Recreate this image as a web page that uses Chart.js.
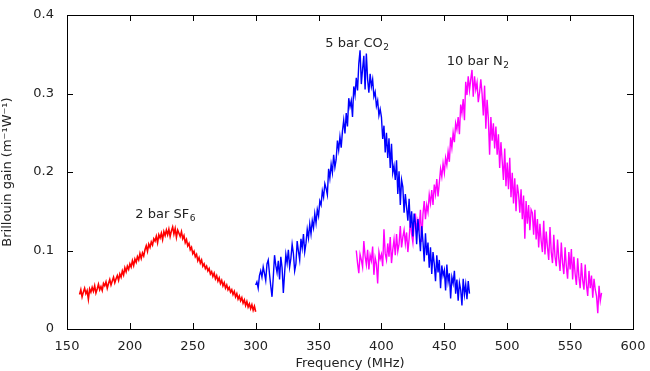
<!DOCTYPE html>
<html>
<head>
<meta charset="utf-8">
<script src="https://cdn.jsdelivr.net/npm/chart.js@4.4.0/dist/chart.umd.min.js"></script>
<style>
  html, body { margin: 0; padding: 0; background: #fff; }
  #wrap { width: 650px; height: 371px; }
</style>
</head>
<body>
<div id="wrap"><canvas id="grafica" width="650" height="371"></canvas></div>
<script>
// frequency grid of each trace (MHz): first sample and spacing
const inicioSF6 = 160, inicioCO2 = 300, inicioN2 = 380, paso = 1;

const gananciaSF6 = [
  .044, .050, .041, .047, .052, .045, .049, .038, .051, .047,
  .053, .048, .055, .046, .051, .057, .050, .054, .049, .058,
  .055, .060, .052, .058, .063, .056, .061, .066, .059, .064,
  .068, .062, .070, .066, .074, .069, .078, .073, .080, .076,
  .083, .079, .087, .081, .089, .085, .092, .088, .096, .090,
  .097, .093, .101, .106, .099, .108, .104, .111, .107, .115,
  .112, .118, .110, .120, .116, .122, .114, .124, .119, .126,
  .120, .127, .118, .125, .130, .121, .128, .117, .126, .122,
  .118, .124, .115, .119, .110, .114, .106, .109, .101, .104,
  .096, .099, .092, .095, .087, .091, .084, .088, .080, .083,
  .077, .080, .074, .077, .070, .073, .067, .071, .064, .068,
  .061, .065, .058, .062, .055, .059, .052, .056, .050, .053,
  .047, .050, .044, .048, .041, .045, .038, .042, .036, .040,
  .033, .037, .030, .035, .028, .032, .026, .031, .024, .029,
  .022
];

const gananciaCO2 = [
  .056, .060, .052, .068, .074, .066, .079, .071, .062, .083,
  .088, .070, .055, .041, .066, .094, .081, .072, .087, .063,
  .092, .078, .046, .071, .095, .084, .101, .079, .090, .108,
  .096, .074, .083, .112, .099, .088, .115, .103, .121, .098,
  .109, .127, .116, .134, .121, .138, .129, .147, .135, .152,
  .144, .163, .158, .176, .168, .185, .179, .171, .204, .192,
  .210, .199, .222, .206, .216, .240, .228, .245, .231, .252,
  .266, .249, .275, .258, .294, .283, .291, .270, .309, .298,
  .320, .304, .338, .355, .312, .331, .348, .305, .351, .318,
  .301, .325, .309, .318, .296, .302, .284, .291, .272, .280,
  .270, .242, .259, .225, .250, .218, .243, .205, .236, .199,
  .208, .190, .215, .172, .201, .158, .190, .181, .148, .172,
  .155, .138, .166, .129, .150, .118, .147, .135, .108, .140,
  .121, .099, .131, .112, .086, .122, .094, .110, .078, .104,
  .070, .098, .083, .061, .094, .072, .088, .052, .081, .068,
  .075, .049, .082, .060, .071, .039, .066, .058, .074, .045,
  .063, .036, .059, .050, .030, .064, .044, .057, .038, .061,
  .045
];

const gananciaN2 = [
  .100, .084, .071, .095, .088, .079, .112, .093, .082, .101,
  .076, .094, .087, .105, .069, .091, .083, .058, .098, .089,
  .095, .080, .127, .096, .088, .109, .092, .117, .084, .101,
  .114, .094, .121, .099, .108, .131, .104, .117, .126, .109,
  .123, .098, .115, .139, .121, .110, .133, .147, .125, .138,
  .129, .152, .111, .146, .163, .140, .158, .149, .171, .160,
  .177, .158, .184, .172, .191, .169, .186, .204, .194, .211,
  .199, .218, .209, .226, .213, .244, .231, .250, .238, .262,
  .254, .270, .248, .286, .275, .293, .266, .315, .298, .322,
  .304, .318, .330, .296, .322, .305, .314, .289, .301, .318,
  .300, .272, .310, .255, .292, .268, .222, .270, .240, .262,
  .230, .258, .222, .248, .205, .238, .214, .190, .230, .182,
  .212, .178, .218, .168, .199, .160, .192, .150, .184, .172,
  .148, .178, .140, .170, .115, .163, .134, .158, .126, .152,
  .148, .120, .152, .114, .140, .104, .134, .112, .098, .138,
  .095, .124, .104, .088, .130, .098, .084, .120, .092, .080,
  .114, .090, .074, .110, .084, .070, .104, .080, .064, .098,
  .076, .102, .063, .092, .070, .056, .090, .066, .052, .084,
  .062, .050, .082, .056, .042, .074, .052, .068, .040, .064,
  .050, .042, .020, .055, .036, .046
];

const ticksX = [150, 200, 250, 300, 350, 400, 450, 500, 550, 600];
const ticksY = [0, 0.1, 0.2, 0.3, 0.4];

// labels: [main text, subscript, frequency, gain]
const etiquetas = [
  ["2 bar SF", "6", 228, 0.141],
  ["5 bar CO", "2", 380.5, 0.359],
  ["10 bar N", "2", 476.5, 0.336]
];

const fuente = "DejaVu Sans, Verdana, sans-serif";

function puntos(inicio, valores) {
  return valores.map((v, i) => ({ x: inicio + i * paso, y: v }));
}

// frame with inward ticks on all four sides, plus the trace labels
const marco = {
  id: "marco",
  afterDraw(chart) {
    const ctx = chart.ctx;
    const a = chart.chartArea;
    const sx = chart.scales.x, sy = chart.scales.y;
    ctx.save();
    ctx.strokeStyle = "#000";
    ctx.lineWidth = 1;
    ctx.strokeRect(Math.round(a.left) + 0.5, Math.round(a.top) + 0.5,
      Math.round(a.right - a.left), Math.round(a.bottom - a.top));
    ctx.beginPath();
    ticksX.forEach(t => {
      const px = Math.round(sx.getPixelForValue(t)) + 0.5;
      ctx.moveTo(px, a.bottom); ctx.lineTo(px, a.bottom - 6);
      ctx.moveTo(px, a.top); ctx.lineTo(px, a.top + 6);
    });
    ticksY.forEach(t => {
      const py = Math.round(sy.getPixelForValue(t)) + 0.5;
      ctx.moveTo(a.left, py); ctx.lineTo(a.left + 6, py);
      ctx.moveTo(a.right, py); ctx.lineTo(a.right - 6, py);
    });
    ctx.stroke();

    ctx.fillStyle = "#222";
    ctx.textBaseline = "alphabetic";
    etiquetas.forEach(([txt, sub, f, g]) => {
      ctx.font = "13px " + fuente;
      const w1 = ctx.measureText(txt).width;
      ctx.font = "9px " + fuente;
      const w2 = ctx.measureText(sub).width;
      const x0 = sx.getPixelForValue(f) - (w1 + w2) / 2;
      const y0 = sy.getPixelForValue(g);
      ctx.font = "13px " + fuente;
      ctx.fillText(txt, x0, y0);
      ctx.font = "9px " + fuente;
      ctx.fillText(sub, x0 + w1 + 0.5, y0 + 3);
    });
    ctx.restore();
  }
};

new Chart(document.getElementById("grafica"), {
  type: "line",
  data: {
    datasets: [
      { data: puntos(inicioSF6, gananciaSF6), borderColor: "#ff0000", borderWidth: 1.6 },
      { data: puntos(inicioCO2, gananciaCO2), borderColor: "#0000ff", borderWidth: 1.4 },
      { data: puntos(inicioN2, gananciaN2), borderColor: "#ff00ff", borderWidth: 1.4 }
    ]
  },
  options: {
    responsive: false,
    animation: false,
    elements: { point: { radius: 0 }, line: { tension: 0 } },
    layout: { padding: { top: 15, right: 17, left: 0, bottom: 0 } },
    plugins: { legend: { display: false }, tooltip: { enabled: false } },
    scales: {
      x: {
        type: "linear",
        min: 150, max: 600,
        afterBuildTicks: s => { s.ticks = ticksX.map(v => ({ value: v })); },
        afterFit: s => { s.height = 42; },
        grid: { display: false },
        border: { display: false },
        ticks: { color: "#222", font: { family: fuente, size: 13 }, padding: 2 },
        title: {
          display: true, text: "Frequency (MHz)", color: "#222",
          font: { family: fuente, size: 13 }, padding: { top: 0, bottom: 0 }
        }
      },
      y: {
        min: 0, max: 0.4,
        afterBuildTicks: s => { s.ticks = ticksY.map(v => ({ value: v })); },
        afterFit: s => { s.width = 67; },
        grid: { display: false },
        border: { display: false },
        ticks: {
          color: "#222", font: { family: fuente, size: 13 }, padding: 5,
          callback: v => String(Math.round(v * 10) / 10)
        },
        title: {
          display: true, text: "Brillouin gain (m\u207B\u00B9W\u207B\u00B9)", color: "#222",
          font: { family: fuente, size: 13 }, padding: { top: 0, bottom: 4 }
        }
      }
    }
  },
  plugins: [marco]
});
</script>
</body>
</html>
